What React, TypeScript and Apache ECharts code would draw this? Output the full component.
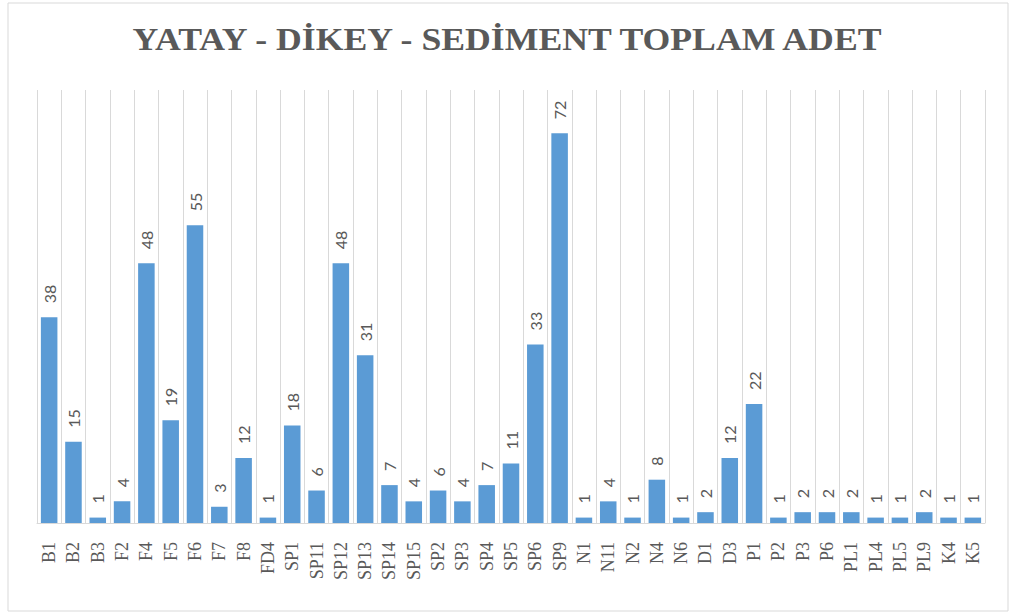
import React, { useEffect, useRef } from "react";
import * as echarts from "echarts";

const categories = ["B1","B2","B3","F2","F4","F5","F6","F7","F8","FD4","SP1","SP11","SP12","SP13","SP14","SP15","SP2","SP3","SP4","SP5","SP6","SP9","N1","N11","N2","N4","N6","D1","D3","P1","P2","P3","P6","PL1","PL4","PL5","PL9","K4","K5"];
const values = [38,15,1,4,48,19,55,3,12,1,18,6,48,31,7,4,6,4,7,11,33,72,1,4,1,8,1,2,12,22,1,2,2,2,1,1,2,1,1];
const title = "YATAY - DİKEY - SEDİMENT TOPLAM ADET";

export default function App() {
  const ref = useRef<HTMLDivElement>(null);
  useEffect(() => {
    const chart = echarts.init(ref.current!, null, { renderer: "svg" });
    chart.setOption({
      animation: false,
      backgroundColor: "#ffffff",
      graphic: [
        {
          type: "rect",
          shape: { x: 8, y: 3, width: 1000, height: 608 },
          style: { fill: "none", stroke: "#d9d9d9", lineWidth: 1 },
          silent: true,
        },
        {
          type: "text",
          x: 507,
          y: 39,
          scaleX: 1.19,
          scaleY: 1.06,
          style: {
            text: title,
            fontFamily: "Liberation Serif",
            fontWeight: "bold",
            fontSize: 30,
            fill: "#595959",
            textAlign: "center",
            textVerticalAlign: "middle",
          },
          silent: true,
        },
      ],
      grid: { left: 37, right: 29, top: 90, bottom: 93 },
      xAxis: {
        type: "category",
        data: categories,
        axisLine: { lineStyle: { color: "#d9d9d9", width: 1 } },
        axisTick: { show: false },
        splitLine: { show: true, interval: 0, lineStyle: { color: "#d9d9d9", width: 1 } },
        axisLabel: {
          rotate: 90,
          interval: 0,
          hideOverlap: false,
          margin: 19,
          fontFamily: "Liberation Serif",
          fontSize: 18,
          color: "#595959",
        },
      },
      yAxis: {
        type: "value",
        min: 0,
        max: 80,
        show: false,
      },
      series: [
        {
          type: "bar",
          data: values,
          barWidth: "68%",
          itemStyle: { color: "#5b9bd5" },
          label: {
            show: true,
            position: "top",
            rotate: 90,
            align: "left",
            verticalAlign: "middle",
            distance: 14,
            fontFamily: "Lato",
            fontSize: 16,
            color: "#595959",
          },
        },
      ],
    });
    return () => chart.dispose();
  }, []);
  return (
    <div
      ref={ref}
      style={{ position: "fixed", left: 0, top: 0, width: 1014, height: 616 }}
    />
  );
}
